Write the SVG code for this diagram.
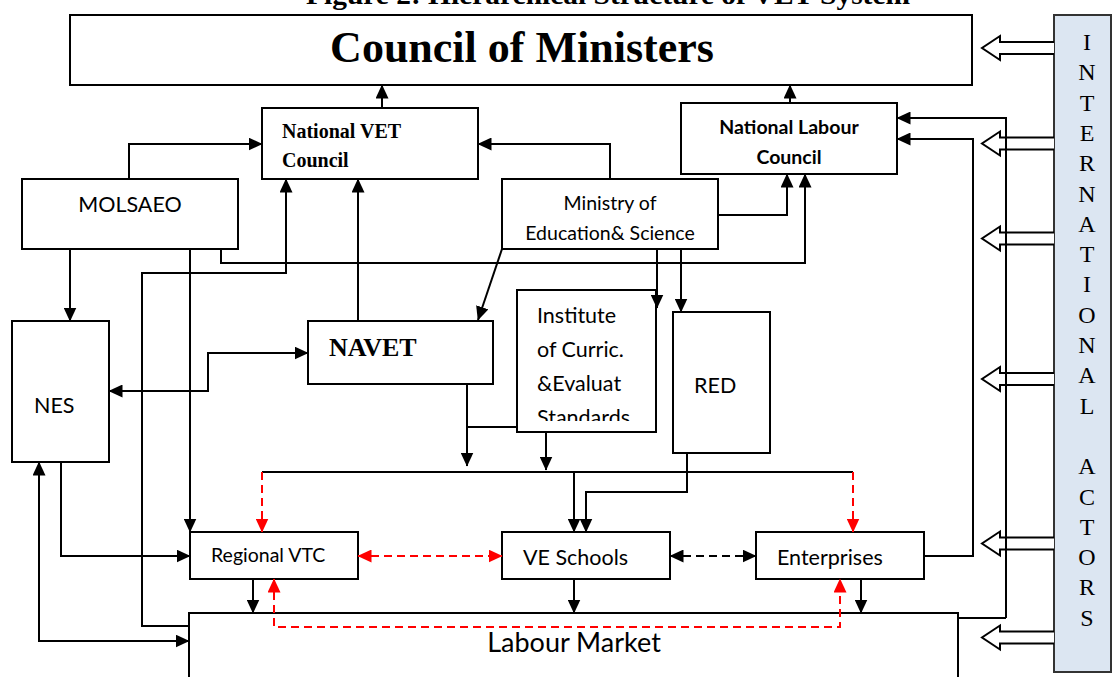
<svg xmlns="http://www.w3.org/2000/svg" width="1112" height="677" viewBox="0 0 1112 677">
<defs>
<marker id="ah" markerUnits="userSpaceOnUse" markerWidth="15" markerHeight="13" refX="13.5" refY="6.5" orient="auto-start-reverse"><path d="M0,0 L14,6.5 L0,13 z" fill="#000"/></marker>
<marker id="ahr" markerUnits="userSpaceOnUse" markerWidth="15" markerHeight="13" refX="13.5" refY="6.5" orient="auto-start-reverse"><path d="M0,0 L14,6.5 L0,13 z" fill="#f00"/></marker>
<clipPath id="instClip"><rect x="517" y="290" width="139" height="131"/></clipPath>
</defs>
<style>
.box{fill:#fff;stroke:#000;stroke-width:2}
.ln{fill:none;stroke:#000;stroke-width:2}
.arr{marker-end:url(#ah)}
.dbl{marker-start:url(#ah);marker-end:url(#ah)}
.red{fill:none;stroke:#f00;stroke-width:2;stroke-dasharray:8 5}
.rarr{marker-end:url(#ahr)}
.rdbl{marker-start:url(#ahr);marker-end:url(#ahr)}
.dash{stroke-dasharray:8 5}
.hollow{fill:#fff;stroke:#000;stroke-width:2}
.sans{font-family:Lato,"Liberation Sans",sans-serif;fill:#000}
.serif{font-family:"Liberation Serif","Times New Roman",serif;fill:#000}
</style>
<rect x="0" y="0" width="1112" height="677" fill="#fff"/>

<text class="serif" x="608" y="4" font-size="27" font-weight="bold" text-anchor="middle" textLength="604" lengthAdjust="spacingAndGlyphs">Figure 2: Hierarchical Structure of VET System</text>

<g id="international-actors">
<rect x="1054" y="15" width="57" height="657" fill="#dce6f2" stroke="#333" stroke-width="2"/>
<text class="serif" font-size="24" text-anchor="middle">
<tspan x="1087" y="50">I</tspan><tspan x="1087" y="80.3">N</tspan><tspan x="1087" y="110.6">T</tspan><tspan x="1087" y="140.9">E</tspan><tspan x="1087" y="171.2">R</tspan><tspan x="1087" y="201.5">N</tspan><tspan x="1087" y="231.8">A</tspan><tspan x="1087" y="262.1">T</tspan><tspan x="1087" y="292.4">I</tspan><tspan x="1087" y="322.7">O</tspan><tspan x="1087" y="353">N</tspan><tspan x="1087" y="383.3">A</tspan><tspan x="1087" y="413.6">L</tspan><tspan x="1087" y="474.2">A</tspan><tspan x="1087" y="504.5">C</tspan><tspan x="1087" y="534.8">T</tspan><tspan x="1087" y="565.1">O</tspan><tspan x="1087" y="595.4">R</tspan><tspan x="1087" y="625.7">S</tspan>
</text>
</g>

<g id="council-of-ministers">
<rect class="box" x="70" y="15" width="902" height="70"/>
<text class="serif" x="522" y="62" font-size="44" font-weight="bold" text-anchor="middle">Council of Ministers</text>
</g>

<g id="national-vet-council">
<rect class="box" x="262" y="108" width="216" height="71"/>
<text class="serif" font-size="20" font-weight="bold"><tspan x="282" y="138">National VET</tspan><tspan x="282" y="167">Council</tspan></text>
</g>

<g id="national-labour-council">
<rect class="box" x="681" y="103" width="216" height="71"/>
<text class="sans" font-size="19.5" font-weight="bold" text-anchor="middle"><tspan x="789" y="134">National Labour</tspan><tspan x="789" y="164">Council</tspan></text>
</g>

<g id="molsaeo">
<rect class="box" x="22" y="179" width="216" height="70"/>
<text class="sans" x="130" y="212" font-size="21.5" text-anchor="middle">MOLSAEO</text>
</g>

<g id="ministry">
<rect class="box" x="502" y="179" width="216" height="70"/>
<text class="sans" font-size="19.5" text-anchor="middle"><tspan x="610" y="210">Ministry of</tspan><tspan x="610" y="240">Education&amp; Science</tspan></text>
</g>

<g id="nes">
<rect class="box" x="12" y="321" width="97" height="141"/>
<text class="sans" x="34" y="413" font-size="21.5">NES</text>
</g>

<g id="navet">
<rect class="box" x="308" y="321" width="185" height="63"/>
<text class="serif" x="329" y="356" font-size="26" font-weight="bold">NAVET</text>
</g>

<g id="institute">
<rect class="box" x="517" y="290" width="139" height="142"/>
<text class="sans" font-size="21.5" clip-path="url(#instClip)"><tspan x="537" y="323">Institute</tspan><tspan x="537" y="357">of Curric.</tspan><tspan x="537" y="391">&amp;Evaluat</tspan><tspan x="537" y="425">Standards</tspan></text>
</g>

<g id="red">
<rect class="box" x="673" y="312" width="97" height="141"/>
<text class="sans" x="694" y="393" font-size="21.5">RED</text>
</g>

<g id="regional-vtc">
<rect class="box" x="190" y="532" width="168" height="47"/>
<text class="sans" x="211" y="562" font-size="19.5">Regional VTC</text>
</g>

<g id="ve-schools">
<rect class="box" x="502" y="532" width="168" height="47"/>
<text class="sans" x="523" y="565" font-size="21.5">VE Schools</text>
</g>

<g id="enterprises">
<rect class="box" x="756" y="532" width="168" height="47"/>
<text class="sans" x="777" y="565" font-size="21.5">Enterprises</text>
</g>

<g id="labour-market">
<rect class="box" x="189" y="613" width="769" height="90"/>
<text class="sans" x="574" y="652" font-size="27" text-anchor="middle">Labour Market</text>
</g>

<g id="hollow-arrows">
<path class="hollow" d="M1054,42 L1000,42 L1000,36 L982,48 L1000,60 L1000,54 L1054,54"/>
<path class="hollow" d="M1054,137.5 L1000,137.5 L1000,131.5 L982,143.5 L1000,155.5 L1000,149.5 L1054,149.5"/>
<path class="hollow" d="M1054,232.5 L1000,232.5 L1000,226.5 L982,238.5 L1000,250.5 L1000,244.5 L1054,244.5"/>
<path class="hollow" d="M1054,373 L1000,373 L1000,367 L982,379 L1000,391 L1000,385 L1054,385"/>
<path class="hollow" d="M1054,537.5 L1000,537.5 L1000,531.5 L982,543.5 L1000,555.5 L1000,549.5 L1054,549.5"/>
<path class="hollow" d="M1054,631.5 L1000,631.5 L1000,625.5 L982,637.5 L1000,649.5 L1000,643.5 L1054,643.5"/>
</g>

<g id="connectors">
<path class="ln arr" d="M382,108 L382,85"/>
<path class="ln arr" d="M790,103 L790,85"/>
<path class="ln arr" d="M129,179 L129,144 L262,144"/>
<path class="ln arr" d="M610,179 L610,144 L478,144"/>
<path class="ln arr" d="M718,215 L787,215 L787,174"/>
<path class="ln arr" d="M221,249 L221,263 L805,263 L805,174"/>
<path class="ln arr" d="M189,626 L142,626 L142,273 L286,273 L286,179"/>
<path class="ln arr" d="M358,321 L358,179"/>
<path class="ln arr" d="M1006,618 L1006,118 L897,118"/>
<path class="ln" d="M958,618 L1006,618"/>
<path class="ln arr" d="M924,556 L973,556 L973,139 L897,139"/>
<path class="ln arr" d="M70,249 L70,321"/>
<path class="ln arr" d="M190,249 L190,532"/>
<path class="ln dbl" d="M308,353 L208,353 L208,391 L109,391"/>
<path class="ln arr" d="M61,462 L61,556 L190,556"/>
<path class="ln dbl" d="M39,462 L39,641 L189,641"/>
<path class="ln arr" d="M502,249 L478,320"/>
<path class="ln arr" d="M657,249 L657,308"/>
<path class="ln arr" d="M681,249 L681,312"/>
<path class="ln arr" d="M467,384 L467,466"/>
<path class="ln" d="M517,427 L467,427"/>
<path class="ln arr" d="M546,432 L546,470"/>
<path class="ln" d="M262,472 L853,472"/>
<path class="ln arr" d="M574,472 L574,532"/>
<path class="ln arr" d="M687,453 L687,492 L586,492 L586,532"/>
<path class="red rarr" d="M262,472 L262,532"/>
<path class="red rarr" d="M853,472 L853,532"/>
<path class="red rdbl" d="M358,556 L502,556"/>
<path class="ln dash dbl" d="M670,556 L756,556"/>
<path class="ln arr" d="M253,579 L253,613"/>
<path class="ln arr" d="M574,579 L574,613"/>
<path class="ln arr" d="M861,579 L861,613"/>
<path class="red rdbl" d="M274,579 L274,627 L840,627 L840,579"/>
</g>
</svg>
